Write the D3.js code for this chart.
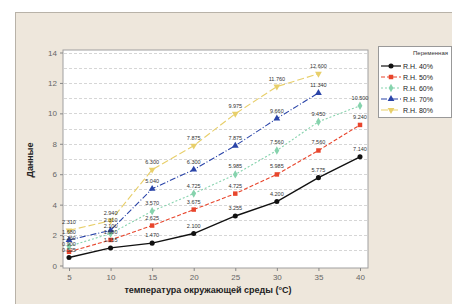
<!DOCTYPE html>
<html>
<head>
<meta charset="utf-8">
<script src="https://cdn.jsdelivr.net/npm/d3@7"></script>
<style>
  body { margin: 0; background: #fff; }
  svg { display: block; font-family: "Liberation Sans", Arial, sans-serif; }
</style>
</head>
<body>
<div id="chart"></div>
<script>
// Данные графика
const temps = [5, 10, 15, 20, 25, 30, 35, 40];
const seriesNames = ["R.H. 40%", "R.H. 50%", "R.H. 60%", "R.H. 70%", "R.H. 80%"];
const rh40 = [0.525, 1.155, 1.470, 2.100, 3.255, 4.200, 5.775, 7.140];
const rh50 = [0.900, 1.680, 2.625, 3.675, 4.725, 5.985, 7.560, 9.240];
const rh60 = [1.260, 2.100, 3.570, 4.725, 5.985, 7.560, 9.450, 10.500];
const rh70 = [1.680, 2.310, 5.040, 6.300, 7.875, 9.660, 11.340];
const rh80 = [2.310, 2.940, 6.300, 7.875, 9.975, 11.760, 12.600];
const yTicks = [0, 2, 4, 6, 8, 10, 12, 14];

const allSeries = [rh40, rh50, rh60, rh70, rh80];
const colors = ["#111111", "#e8452c", "#86d3ad", "#2a44a8", "#e8cf6a"];
const dashes = [null, "4,2", "2,2", "6,2,1,2", "7,3"];
const symbols = [d3.symbolCircle, d3.symbolSquare, d3.symbolDiamond, d3.symbolTriangle, d3.symbolTriangle];
const rotate = [0, 0, 0, 0, 180];

const W = 452, H = 304;
const svg = d3.select("#chart").append("svg")
    .attr("width", W)
    .attr("height", H);

// Бежевая панель
svg.append("rect")
    .attr("x", 15.5).attr("y", 12.5)
    .attr("width", W).attr("height", H)
    .attr("fill", "#eee7dc")
    .attr("stroke", "#b8b2a8");

const plot = { left: 63, right: 368, top: 50, bottom: 268 };

const x = d3.scaleLinear().domain([5, 40]).range([69, 360]);
const y = d3.scaleLinear().domain([0, 14]).range([265.5, 52.5]);

// Область графика
svg.append("rect")
    .attr("x", plot.left).attr("y", plot.top)
    .attr("width", plot.right - plot.left)
    .attr("height", plot.bottom - plot.top)
    .attr("fill", "#ffffff")
    .attr("stroke", "#a0a0a0");

// Сетка
svg.append("g")
    .selectAll("line")
    .data(d3.range(1, 15))
    .join("line")
    .attr("x1", plot.left + 1).attr("x2", plot.right - 1)
    .attr("y1", d => Math.round(y(d)) + 0.5)
    .attr("y2", d => Math.round(y(d)) + 0.5)
    .attr("stroke", "#d6d6d6")
    .attr("stroke-dasharray", "3,2");

// Оси
const yAxis = svg.append("g")
    .attr("transform", `translate(${plot.left},0)`)
    .call(d3.axisLeft(y).tickValues(yTicks).tickSize(3).tickFormat(d3.format("d")));
const xAxis = svg.append("g")
    .attr("transform", `translate(0,${plot.bottom})`)
    .call(d3.axisBottom(x).tickValues(temps).tickSize(3));
[yAxis, xAxis].forEach(a => {
    a.select(".domain").remove();
    a.selectAll("line").attr("stroke", "#888");
    a.selectAll("text").attr("fill", "#666").style("font-size", "8px");
});

const line = d3.line()
    .x((d, i) => x(temps[i]))
    .y(d => y(d));

allSeries.forEach((vals, k) => {
    svg.append("path")
        .datum(vals)
        .attr("d", line)
        .attr("fill", "none")
        .attr("stroke", colors[k])
        .attr("stroke-width", k === 0 ? 1.4 : 1.1)
        .attr("stroke-dasharray", dashes[k]);
});

// Подписи значений: раздвигаем, чтобы не налезали друг на друга
let labels = [];
allSeries.forEach((vals, k) => {
    vals.forEach((v, i) => labels.push({ i, v, ly: y(v) - 6 }));
});
d3.groups(labels, d => d.i).forEach(([i, arr]) => {
    arr.sort((a, b) => b.ly - a.ly);
    for (let j = 1; j < arr.length; j++) {
        if (arr[j - 1].ly - arr[j].ly < 6) arr[j].ly = arr[j - 1].ly - 6;
    }
});

allSeries.forEach((vals, k) => {
    svg.append("g").selectAll("path")
        .data(vals)
        .join("path")
        .attr("d", d3.symbol(symbols[k], 20))
        .attr("transform", (d, i) => `translate(${x(temps[i])},${y(d)}) rotate(${rotate[k]})`)
        .attr("fill", colors[k]);
});

svg.append("g").selectAll("text")
    .data(labels)
    .join("text")
    .attr("x", d => x(temps[d.i]))
    .attr("y", d => d.ly)
    .attr("text-anchor", "middle")
    .style("font-size", "5.5px")
    .attr("fill", "#333")
    .text(d => d.v.toFixed(3));

// Подписи осей
svg.append("text")
    .attr("x", 208).attr("y", 293)
    .attr("text-anchor", "middle")
    .style("font-size", "9px")
    .style("font-weight", "bold")
    .attr("fill", "#222")
    .text("температура окружающей среды (°C)");

svg.append("text")
    .attr("transform", "translate(33,160) rotate(-90)")
    .attr("text-anchor", "middle")
    .style("font-size", "9px")
    .style("font-weight", "bold")
    .attr("fill", "#222")
    .text("Данные");

// Легенда
const legend = svg.append("g").attr("transform", "translate(378,46)");
legend.append("rect")
    .attr("x", 0.5).attr("y", 0.5)
    .attr("width", 73).attr("height", 71)
    .attr("fill", "#ffffff")
    .attr("stroke", "#999");
legend.append("text")
    .attr("x", 70).attr("y", 9)
    .attr("text-anchor", "end")
    .style("font-size", "6px")
    .attr("fill", "#333")
    .text("Переменная");
seriesNames.forEach((name, k) => {
    const ly = 20 + k * 11;
    legend.append("line")
        .attr("x1", 3).attr("x2", 23)
        .attr("y1", ly).attr("y2", ly)
        .attr("stroke", colors[k])
        .attr("stroke-width", 1.2)
        .attr("stroke-dasharray", dashes[k]);
    legend.append("path")
        .attr("d", d3.symbol(symbols[k], 20))
        .attr("transform", `translate(13,${ly}) rotate(${rotate[k]})`)
        .attr("fill", colors[k]);
    legend.append("text")
        .attr("x", 25).attr("y", ly + 2.5)
        .style("font-size", "7px")
        .attr("fill", "#222")
        .text(name);
});
</script>
</body>
</html>
